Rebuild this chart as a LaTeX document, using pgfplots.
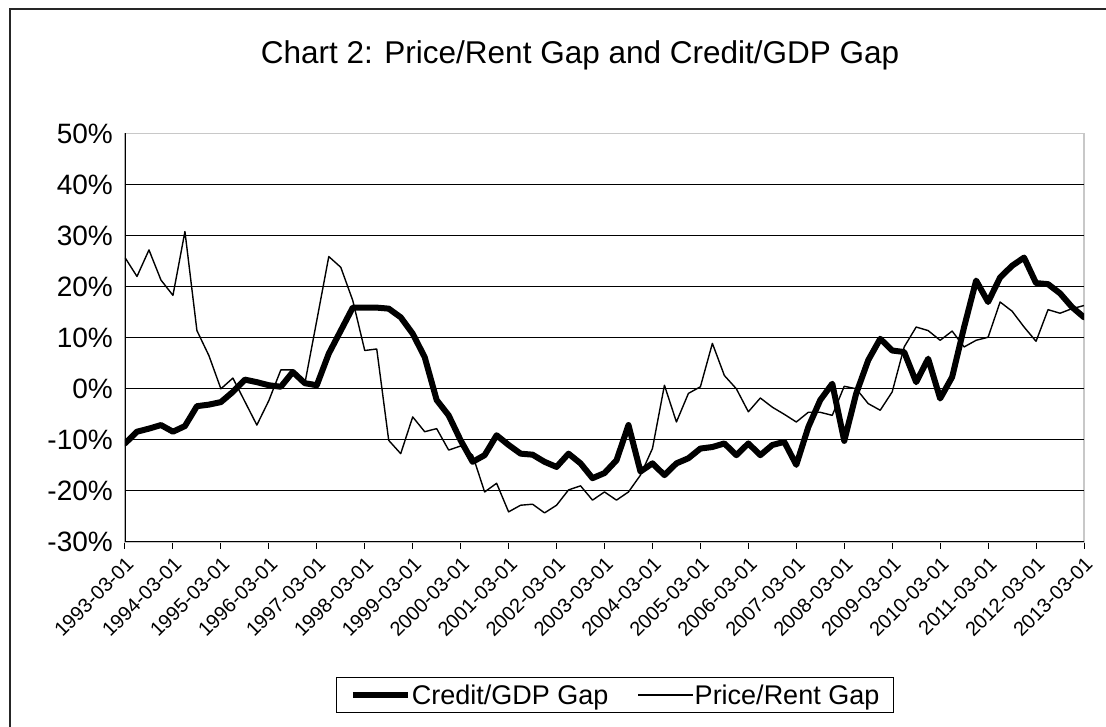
\documentclass[border=0pt]{standalone}
\usepackage{pgfplots}
\pgfplotsset{compat=1.18}
\usepackage{pgfplotstable}
\usepackage{fontspec}
\setmainfont{Liberation Sans}
\definecolor{bordergray}{RGB}{200,200,200}
\newcommand\xl{\fontsize{20}{23}\selectfont}

\pgfplotstableread{
i credit price
0 -10.7 25.7
1 -8.4 22.0
2 -7.8 27.2
3 -7.1 21.3
4 -8.4 18.3
5 -7.3 30.8
6 -3.4 11.4
7 -3.1 6.5
8 -2.6 0.0
9 -0.6 2.1
10 1.8 -2.5
11 1.3 -7.1
12 0.7 -2.3
13 0.4 3.7
14 3.3 3.7
15 1.1 1.0
16 0.7 13.4
17 6.9 25.9
18 11.4 23.8
19 15.9 17.3
20 15.9 7.5
21 15.9 7.8
22 15.7 -10.1
23 14.0 -12.7
24 10.8 -5.5
25 6.2 -8.4
26 -2.2 -7.8
27 -5.2 -12.0
28 -10.1 -11.2
29 -14.3 -13.0
30 -13.0 -20.2
31 -9.1 -18.5
32 -11.0 -24.1
33 -12.7 -22.8
34 -12.9 -22.6
35 -14.3 -24.3
36 -15.3 -22.8
37 -12.7 -19.8
38 -14.6 -19.0
39 -17.5 -21.8
40 -16.5 -20.2
41 -14.0 -21.8
42 -7.1 -20.2
43 -16.2 -16.9
44 -14.6 -11.7
45 -16.9 0.7
46 -14.6 -6.5
47 -13.6 -0.9
48 -11.7 0.4
49 -11.4 8.9
50 -10.7 2.6
51 -13.0 0.0
52 -10.7 -4.5
53 -13.0 -1.8
54 -11.0 -3.6
55 -10.4 -5.0
56 -14.9 -6.5
57 -7.5 -4.6
58 -2.2 -4.6
59 1.0 -5.2
60 -10.2 0.5
61 -0.9 0.0
62 5.6 -2.9
63 9.8 -4.2
64 7.5 -0.6
65 7.2 8.2
66 1.3 12.1
67 5.9 11.4
68 -1.9 9.5
69 2.3 11.3
70 12.1 8.2
71 21.2 9.5
72 17.0 10.1
73 21.8 17.0
74 24.1 15.2
75 25.7 12.1
76 20.7 9.3
77 20.5 15.5
78 18.7 14.8
79 16.0 15.7
80 14.0 16.3
}\gaps

\begin{document}
\begin{tikzpicture}
\useasboundingbox (0,0) rectangle (1106pt,727pt);
\draw[line width=1.6pt, black!85] (10pt,0pt) -- (10pt,718pt) -- (1106pt,718pt);
\node[font=\fontsize{31.5}{37}\selectfont] at (580pt,672pt) {Chart 2: Price/Rent Gap and Credit/GDP Gap};
\begin{axis}[
  at={(125pt,185pt)}, anchor=south west,
  width=959pt, height=408.5pt, scale only axis,
  xmin=0, xmax=80, ymin=-30, ymax=50,
  axis line style={draw=bordergray, line width=1.5pt},
  major tick length=7pt,
  xtick={0,4,...,80},
  xticklabels={\xl 1993-03-01,\xl 1994-03-01,\xl 1995-03-01,\xl 1996-03-01,\xl 1997-03-01,\xl 1998-03-01,\xl 1999-03-01,\xl 2000-03-01,\xl 2001-03-01,\xl 2002-03-01,\xl 2003-03-01,\xl 2004-03-01,\xl 2005-03-01,\xl 2006-03-01,\xl 2007-03-01,\xl 2008-03-01,\xl 2009-03-01,\xl 2010-03-01,\xl 2011-03-01,\xl 2012-03-01,\xl 2013-03-01},
  xtick pos=bottom, xtick align=outside,
  x tick style={black, line width=1pt},
  xticklabel style={font=\xl, yshift=-5pt, rotate=45, anchor=north east, inner sep=1pt},
  ytick={-30,-20,...,50},
  yticklabels={-30\%,-20\%,-10\%,0\%,10\%,20\%,30\%,40\%,50\%},
  ytick pos=left,
  y tick style={draw=none},
  yticklabel style={font=\fontsize{28}{32}\selectfont, anchor=east, inner sep=0pt, xshift=-12pt},
  extra y ticks={-20,-10,0,10,20,30,40},
  extra y tick labels={},
  extra y tick style={grid=major, major grid style={black, line width=0.9pt}, tick style={draw=none}},
  legend style={at={(0.511,-0.3745)}, anchor=center, draw=black, line width=1pt,
    font=\fontsize{27}{31}\selectfont, inner xsep=13pt, inner ysep=6pt,
    nodes={inner sep=1pt},
    /tikz/every even column/.append style={column sep=28pt}},
  legend columns=2,
  legend cell align=left,
  legend image code/.code={\draw[#1, line cap=butt] (0pt,0pt) -- (55pt,0pt);},
]
\addplot[black, line width=6pt, line join=round, line cap=round] table[x=i, y=credit] {\gaps};
\addlegendentry{Credit/GDP Gap}
\addplot[black, line width=1.4pt, line join=round] table[x=i, y=price] {\gaps};
\addlegendentry{Price/Rent Gap}
\draw[black, line width=1.5pt] (rel axis cs:0,1) -- (rel axis cs:0,0) -- (rel axis cs:1,0);
\end{axis}
\end{tikzpicture}
\end{document}
